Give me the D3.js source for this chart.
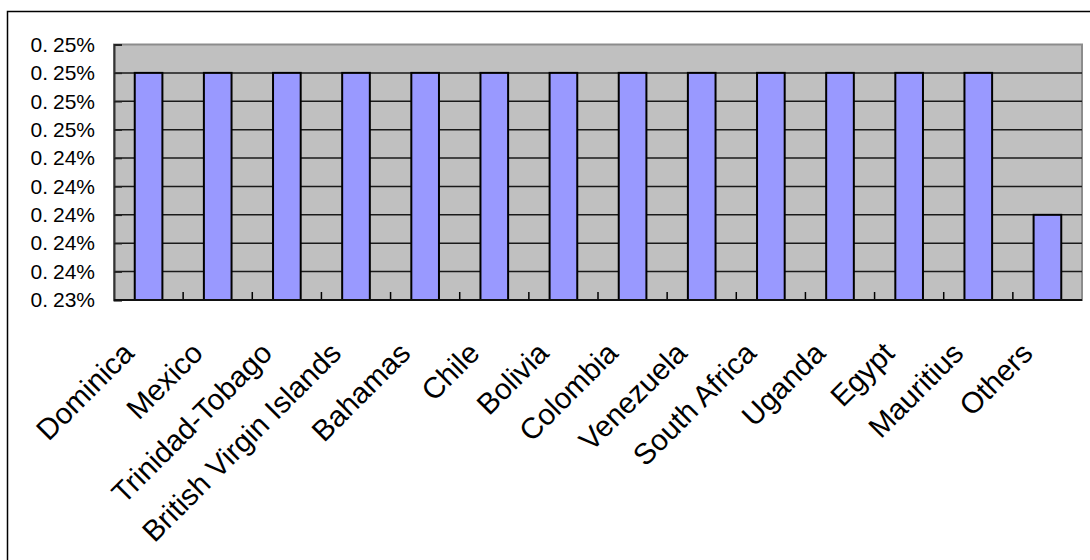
<!DOCTYPE html>
<html>
<head>
<meta charset="utf-8">
<script src="https://cdn.jsdelivr.net/npm/d3@7"></script>
<style>
  html, body { margin: 0; padding: 0; background: #fff; }
  svg { display: block; font-family: "Liberation Sans", Arial, sans-serif; }
</style>
</head>
<body>
<svg id="chart" width="1090" height="560"></svg>
<script>
// Share by country
const categories = ["Dominica", "Mexico", "Trinidad-Tobago", "British Virgin Islands", "Bahamas",
  "Chile", "Bolivia", "Colombia", "Venezuela", "South Africa", "Uganda", "Egypt", "Mauritius", "Others"];
const shares = [0.0025, 0.0025, 0.0025, 0.0025, 0.0025, 0.0025, 0.0025,
  0.0025, 0.0025, 0.0025, 0.0025, 0.0025, 0.0025, 0.0024];
// Value axis ticks
const yTicks = [0.00234, 0.00236, 0.00238, 0.00240, 0.00242, 0.00244, 0.00246, 0.00248, 0.00250, 0.00252];

const svg = d3.select("#chart");
const plot = { left: 114, right: 1082, top: 44.5, bottom: 300 };

// Outer chart frame
svg.append("rect")
  .attr("x", 7.5).attr("y", 11.5).attr("width", 1200).attr("height", 700)
  .attr("fill", "#fff").attr("stroke", "#000").attr("stroke-width", 1.5);

const x = d3.scaleBand().domain(categories).range([plot.left, plot.right]).padding(0);
const y = d3.scaleLinear().domain([yTicks[0], yTicks[yTicks.length - 1]]).range([plot.bottom, plot.top]);

// Plot area background
svg.append("rect")
  .attr("x", plot.left).attr("y", plot.top)
  .attr("width", plot.right - plot.left).attr("height", plot.bottom - plot.top)
  .attr("fill", "#c0c0c0").attr("stroke", "#8c8c8c").attr("stroke-width", 2);

// Horizontal gridlines
svg.append("g").selectAll("line")
  .data(yTicks.slice(1, -1))
  .join("line")
  .attr("x1", plot.left).attr("x2", plot.right)
  .attr("y1", d => y(d)).attr("y2", d => y(d))
  .attr("stroke", "#1a1a1a").attr("stroke-width", 1.5);

// Bars
const barW = x.bandwidth() / 2.5;
svg.append("g").selectAll("rect")
  .data(categories.map((c, i) => ({ c, v: shares[i] })))
  .join("rect")
  .attr("x", d => x(d.c) + (x.bandwidth() - barW) / 2)
  .attr("y", d => y(d.v))
  .attr("width", barW)
  .attr("height", d => plot.bottom - y(d.v))
  .attr("fill", "#9999ff").attr("stroke", "#000").attr("stroke-width", 2);

// Value axis
const yAxis = d3.axisLeft(y).tickValues(yTicks).tickSize(-8).tickPadding(19)
  .tickFormat(d3.format(".2%"));
const gy = svg.append("g").attr("transform", `translate(${plot.left},0)`).call(yAxis);
gy.select(".domain").attr("stroke", "#333").attr("stroke-width", 2);
gy.selectAll(".tick line").attr("stroke", "#222").attr("stroke-width", 1.5);
gy.selectAll(".tick text")
  .attr("font-size", 21).attr("fill", "#000").attr("font-family", "'Liberation Sans', Arial, sans-serif")
  .each(function () {
    const t = d3.select(this);
    const s = t.text();
    const k = s.indexOf(".") + 1;
    t.text(null);
    t.append("tspan").text(s.slice(0, k));
    t.append("tspan").attr("dx", 5).text(s.slice(k));
  });

// Category axis
const xAxis = d3.axisBottom(x).tickSize(0).tickFormat(d => d);
const gx = svg.append("g").attr("transform", `translate(0,${plot.bottom})`).call(xAxis);
gx.select(".domain").remove();
gx.selectAll(".tick text")
  .attr("font-size", 29.5).attr("fill", "#000").attr("font-family", "'Liberation Sans', Arial, sans-serif")
  .attr("text-anchor", "end")
  .attr("dy", null).attr("y", null)
  .attr("transform", "translate(-13,55) rotate(-45)");

// Category separators (inward tick marks)
svg.append("g").selectAll("line")
  .data(categories.slice(1))
  .join("line")
  .attr("x1", d => x(d)).attr("x2", d => x(d))
  .attr("y1", plot.bottom).attr("y2", plot.bottom - 8)
  .attr("stroke", "#000").attr("stroke-width", 1.5);

svg.append("line")
  .attr("x1", plot.left).attr("x2", plot.right)
  .attr("y1", plot.bottom).attr("y2", plot.bottom)
  .attr("stroke", "#111").attr("stroke-width", 2);
</script>
</body>
</html>
